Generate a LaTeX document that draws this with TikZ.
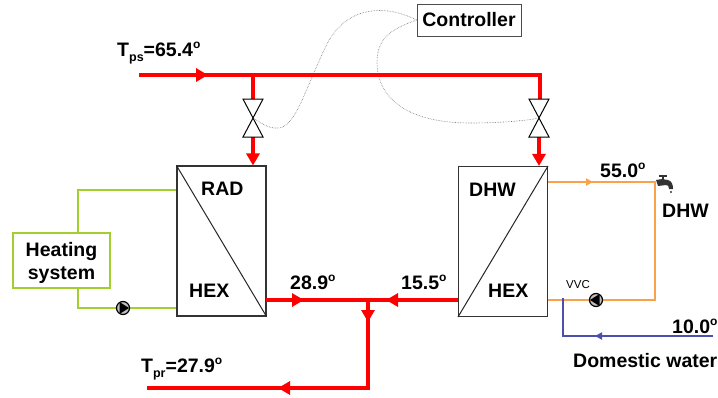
\documentclass[tikz,border=0pt]{standalone}
\usepackage{fontspec}
\setmainfont{Liberation Sans}
\usetikzlibrary{calc,arrows.meta,positioning}
\definecolor{pipeRed}{HTML}{FF0000}
\definecolor{pipeGreen}{HTML}{A2CF2E}
\definecolor{pipeOrange}{HTML}{F9A24B}
\definecolor{pipeBlue}{HTML}{4B4FAE}
\newcommand{\lowtxt}[1]{\raisebox{-0.45ex}{\fontsize{12.5}{13}\selectfont #1}}
\newcommand{\degtxt}{\raisebox{0.75ex}{\fontsize{12}{13}\selectfont o}}
\begin{document}
\begin{tikzpicture}[x=1pt,y=-1pt,font=\fontsize{19.5}{21}\selectfont\bfseries,
  hexbox/.style={rectangle, draw=black!80, line width=1.1pt, minimum width=89pt, minimum height=150pt, inner sep=0pt},
  ctrlbox/.style={rectangle, draw=black!70, line width=0.8pt, minimum width=104pt, minimum height=32pt, inner sep=0pt},
  heatbox/.style={rectangle, draw=pipeGreen, line width=1.2pt, minimum width=97pt, minimum height=55pt, inner sep=0pt, align=center, font=\fontsize{19.5}{23}\selectfont\bfseries},
  lbl/.style={inner sep=0pt, anchor=west},
  redpipe/.style={draw=pipeRed, line width=3.4pt},
  redarr/.style={redpipe, -{Triangle[length=12pt,width=13pt]}},
  greenpipe/.style={draw=pipeGreen, line width=1.8pt},
  orangepipe/.style={draw=pipeOrange, line width=1.8pt},
  orangearr/.style={orangepipe, -{Triangle[length=7pt,width=7pt]}},
  bluepipe/.style={draw=pipeBlue, line width=1.8pt},
  bluearr/.style={bluepipe, -{Triangle[length=7pt,width=7pt]}},
  signal/.style={draw=black!55, line width=0.6pt, densely dotted},
  pumpnode/.style={circle, draw=black, fill=black!25, line width=1.2pt, minimum size=13pt, inner sep=0pt},
  valve/.pic={\draw[black, line width=1pt, fill=white] (-10,-19) -- (10,-19) -- (-10,19) -- (10,19) -- cycle;}]
  \useasboundingbox (0,0) rectangle (718,397);
  \node[hexbox] (rad) at (221.5,241) {};
  \node[hexbox] (dhw) at (503,241.5) {};
  \node[ctrlbox] (ctrl) at (469,20) {Controller};
  \node[heatbox] (heat) at (61.5,260.5) {\rule{0pt}{20pt}Heating\\system};
  \coordinate (psin) at (139,75);
  \coordinate (psarr) at (208,75);
  \coordinate (psjoin) at (253,75);
  \coordinate (pscorner) at (540,75);
  \coordinate (v1) at (253,118);
  \coordinate (v2) at (539,118);
  \coordinate (radout) at (266,300);
  \coordinate (radarr) at (304,300);
  \coordinate (join) at (368,300);
  \coordinate (dhwarr) at (386,300);
  \coordinate (dhwout) at (458,300);
  \coordinate (downarr) at (368,322);
  \coordinate (retcorner) at (368,388);
  \coordinate (retarr) at (278,388);
  \coordinate (retend) at (147,388);
  \coordinate (gt) at (78,190);
  \coordinate (gb) at (78,308);
  \coordinate (o1) at (548,182);
  \coordinate (oarr) at (593,182);
  \coordinate (o2) at (655,182);
  \coordinate (o3) at (655,300);
  \coordinate (o4) at (548,300);
  \coordinate (bjoin) at (563,298);
  \coordinate (b1) at (563,336);
  \coordinate (barr) at (595,336);
  \coordinate (bin) at (713,336);
  \draw[line width=1pt, black!85] (rad.north west) -- (rad.south east);
  \draw[line width=1pt, black!85] (dhw.south west) -- (dhw.north east);
  \draw[signal] (ctrl.west) .. controls (385,4) and (345,5) .. (325,48) .. controls (305,90) and (295,128) .. (278,128) .. controls (268,129) and (260,122) .. (v1);
  \draw[signal] (ctrl.west) .. controls (395,28) and (377,36) .. (377,62) .. controls (377,100) and (410,123) .. (470,123) .. controls (505,123) and (530,120) .. (v2);
  \draw[redpipe] (psin) -- (pscorner) -- ($(v2)+(1,-19)$);
  \draw[redarr] (psin) -- (psarr);
  \draw[redpipe] (psjoin) -- ($(v1)+(0,-19)$);
  \draw[redarr] ($(v1)+(0,19)$) -- (v1 |- rad.north);
  \draw[redarr] ($(v2)+(0,19)$) -- (v2 |- dhw.north);
  \pic at (v1) {valve};
  \pic at (v2) {valve};
  \draw[redpipe] (radout) -- (dhwout);
  \draw[redarr] (radout) -- (radarr);
  \draw[redarr] (dhwout) -- (dhwarr);
  \draw[redarr] (join) -- (downarr);
  \draw[redpipe, line join=miter] (join) -- (retcorner) -- (retend);
  \draw[redarr] (retcorner) -- (retarr);
  \draw[greenpipe] (heat.north -| gt) -- (gt) -- (gt -| rad.west);
  \draw[greenpipe] (heat.south -| gb) -- (gb) -- (gb -| rad.west);
  \node[pumpnode] (pump1) at (123,308) {};
  \fill[black] ($(pump1)+(-3.5,-6)$) -- ($(pump1)+(6,0)$) -- ($(pump1)+(-3.5,6)$) -- cycle;
  \draw[orangepipe] (o1) -- (o2) -- (o3) -- (o4);
  \draw[orangearr] (o1) -- (oarr);
  \draw[bluepipe] (bjoin) -- (b1) -- (bin);
  \draw[bluearr] (bin) -- (barr);
  \node[pumpnode] (pump2) at (596,300) {};
  \fill[black] ($(pump2)+(3.5,-6)$) -- ($(pump2)+(-6,0)$) -- ($(pump2)+(3.5,6)$) -- cycle;
  \coordinate (tap) at (664,183);
  \fill[black!80] ($(tap)+(-8,-3)$) -- ($(tap)+(-2,-4)$) -- ($(tap)+(4,-3)$) .. controls ($(tap)+(8,-2)$) and ($(tap)+(9,2)$) .. ($(tap)+(9,6)$) -- ($(tap)+(5,6)$) .. controls ($(tap)+(5,3)$) and ($(tap)+(4,2)$) .. ($(tap)+(2,2)$) -- ($(tap)+(-6,3)$) -- cycle;
  \fill[black!80] ($(tap)+(-5,-8)$) rectangle ($(tap)+(3,-6.5)$);
  \fill[black!80] ($(tap)+(-2,-7)$) rectangle ($(tap)+(0,-3)$);
  \fill[black!80] ($(tap)+(7,9)$) circle (1.2pt);
  \node[lbl] (tps) at (117,53) {T\lowtxt{ps}=65.4\degtxt};
  \node[lbl] (tpr) at (141,369) {T\lowtxt{pr}=27.9\degtxt};
  \node[lbl] (radtxt) at (201,189) {RAD};
  \node[lbl] (hexl) at (189,291) {HEX};
  \node[lbl] (dhwtxt) at (469,190) {DHW};
  \node[lbl] (hexr) at (488,291) {HEX};
  \node[lbl] (t289) at (290,282) {28.9\degtxt};
  \node[lbl] (t155) at (401,282) {15.5\degtxt};
  \node[lbl] (t550) at (600,170) {55.0\degtxt};
  \node[lbl] (dhwtap) at (662,211) {DHW};
  \node[lbl, font=\fontsize{11.5}{12}\selectfont] (vvc) at (566,285) {VVC};
  \node[lbl] (t100) at (672,326) {10.0\degtxt};
  \node[lbl] (domw) at (573,361) {Domestic water};
\end{tikzpicture}
\end{document}
